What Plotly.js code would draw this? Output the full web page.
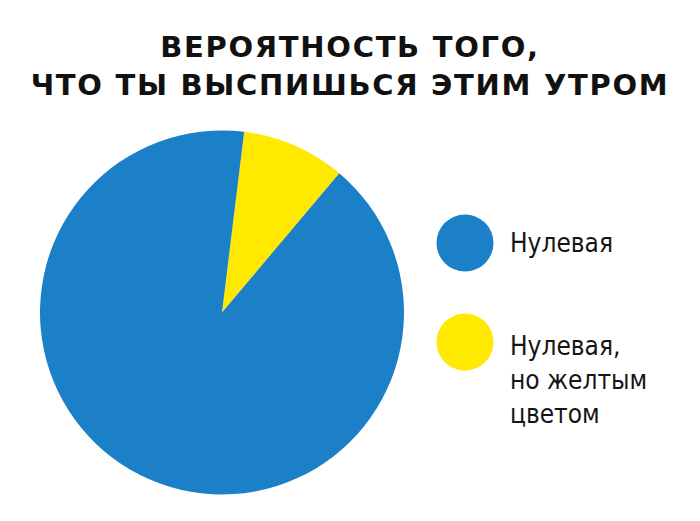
<!DOCTYPE html>
<html>
<head>
<meta charset="utf-8">
<script src="https://cdn.plot.ly/plotly-3.0.1.min.js"></script>
<style>html,body{margin:0;padding:0;background:#fff;}#chart{width:700px;height:521px;}
.gtitle{letter-spacing:1.7px;}</style>
</head>
<body>
<div id="chart"></div>
<script>
// Data
var categories = ["Нулевая, но желтым цветом", "Нулевая"];
var values = [9.2, 90.8];
var colors = ["#ffe900", "#1b80c8"];
var legendLabels = ["Нулевая", "Нулевая,<br>но желтым<br>цветом"];
var legendColors = ["#1b80c8", "#ffe900"];
var titleLines = ["ВЕРОЯТНОСТЬ ТОГО,", "ЧТО ТЫ ВЫСПИШЬСЯ ЭТИМ УТРОМ"];

var W = 700, H = 521;
function px(x){ return x / W; }
function py(y){ return 1 - y / H; }

var trace = {
  type: "pie",
  labels: categories,
  values: values,
  sort: false,
  direction: "clockwise",
  rotation: 7,
  marker: { colors: colors, line: { width: 0 } },
  textinfo: "none",
  hoverinfo: "label+percent",
  showlegend: false,
  domain: { x: [px(40), px(404)], y: [py(495), py(130)] }
};

var legendY = [243, 380];
var circleY = [243, 342];
var shapes = [], annotations = [];
for (var i = 0; i < legendLabels.length; i++) {
  shapes.push({
    type: "circle", xref: "paper", yref: "paper",
    xsizemode: "pixel", ysizemode: "pixel",
    xanchor: px(465), yanchor: py(circleY[i]),
    x0: -28.5, x1: 28.5, y0: -28.5, y1: 28.5,
    fillcolor: legendColors[i], line: { width: 0 }
  });
  annotations.push({
    xref: "paper", yref: "paper",
    x: px(508), y: py(legendY[i]),
    xanchor: "left", yanchor: "middle", align: "left",
    showarrow: false,
    text: legendLabels[i],
    font: { family: "'Liberation Sans Narrow', 'DejaVu Sans Condensed', sans-serif", size: 26, color: "#151515" }
  });
}

var layout = {
  width: W, height: H,
  margin: { l: 0, r: 0, t: 0, b: 0 },
  paper_bgcolor: "#ffffff",
  title: {
    text: "<b>" + titleLines.join("<br>") + "</b>",
    x: 0.5, xanchor: "center",
    y: py(57), yanchor: "top",
    font: { family: "'DejaVu Sans', sans-serif", size: 29, color: "#111111", weight: 700 }
  },
  shapes: shapes,
  annotations: annotations
};

Plotly.newPlot("chart", [trace], layout, { displayModeBar: false, staticPlot: true });
</script>
</body>
</html>
